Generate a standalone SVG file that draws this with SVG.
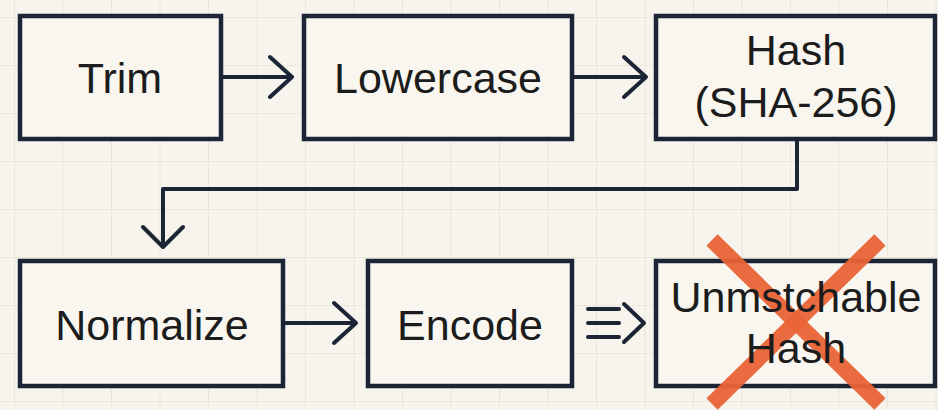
<svg xmlns="http://www.w3.org/2000/svg" width="938" height="410" viewBox="0 0 938 410">
<defs>
<pattern id="grid" x="14" y="17" width="48.5" height="48" patternUnits="userSpaceOnUse">
<path d="M0 0H48.5M0 0V48" fill="none" stroke="#E6E2D6" stroke-width="1.5"/>
</pattern>
<style>
.box{fill:#F8F6EF;stroke:#1B2535;stroke-width:4.5}
.lbl{font-family:"Liberation Sans",Arial,sans-serif;font-size:43px;fill:#1C1C1C;text-anchor:middle}
.con{fill:none;stroke:#1B2535;stroke-width:4;stroke-linecap:round;stroke-linejoin:round}
.x{stroke:#EA6436;stroke-width:16;stroke-linecap:butt;opacity:0.95}
</style>
</defs>
<rect width="938" height="410" fill="#F6F4EC"/>
<rect width="938" height="410" fill="url(#grid)"/>
<g id="trim"><rect class="box" x="20" y="16" width="201" height="123"/><text class="lbl" x="120" y="93">Trim</text></g>
<g id="lowercase"><rect class="box" x="304" y="16" width="268" height="123"/><text class="lbl" x="438" y="93">Lowercase</text></g>
<g id="hash"><rect class="box" x="656" y="16" width="279" height="123"/><text class="lbl" x="796" y="65">Hash</text><text class="lbl" x="796" y="117">(SHA-256)</text></g>
<g id="normalize"><rect class="box" x="20" y="261" width="263" height="125"/><text class="lbl" x="152" y="340">Normalize</text></g>
<g id="encode"><rect class="box" x="368" y="261" width="204" height="125"/><text class="lbl" x="470" y="340">Encode</text></g>
<g id="unmatchable"><rect class="box" x="656" y="261" width="279" height="125"/>
<line class="x" x1="712" y1="240" x2="880" y2="404"/><line class="x" x1="880" y1="240" x2="712" y2="404"/>
<text class="lbl" x="796" y="312">Unmstchable</text><text class="lbl" x="796" y="363">Hash</text></g>
<g id="connectors">
<path class="con" d="M222 77H292M270 57L292 77L270 97"/>
<path class="con" d="M573 77H646M624 57L646 77L624 97"/>
<path class="con" d="M797 139V189H163V247M143 227L163 247L183 227"/>
<path class="con" d="M284 323H356M334 303L356 323L334 343"/>
<path class="con" d="M588 309H619M588 323H619M588 337H619M624 304L644 323L624 342"/>
</g>
</svg>
